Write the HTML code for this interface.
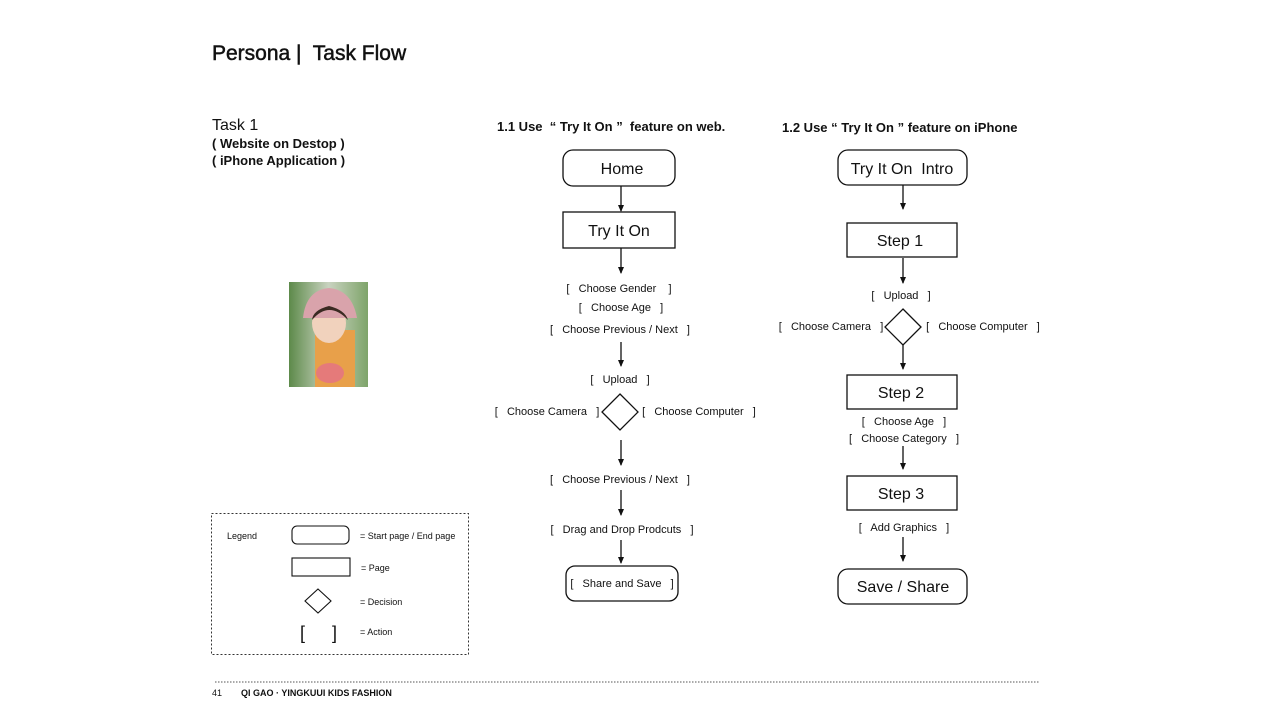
<!DOCTYPE html>
<html><head><meta charset="utf-8"><style>
html,body{margin:0;padding:0;background:#fff}
svg{display:block}
text{font-family:"Liberation Sans",sans-serif;fill:#111;white-space:pre}
</style></head><body>
<svg width="1280" height="720" viewBox="0 0 1280 720" xmlns="http://www.w3.org/2000/svg" xml:space="preserve">
<defs>
<marker id="a" markerWidth="7" markerHeight="6" refX="6" refY="3" orient="auto" markerUnits="userSpaceOnUse">
<path d="M0,0 L7,3 L0,6 z" fill="#111"/></marker>
<linearGradient id="bg" x1="0" y1="0" x2="1" y2="0"><stop offset="0" stop-color="#5d8a4a"/><stop offset="0.5" stop-color="#c9d3c0"/><stop offset="1" stop-color="#7ea46a"/></linearGradient>
</defs>
<text x="212" y="60" font-size="21" stroke="#111" stroke-width="0.5">Persona |  Task Flow</text>
<text x="212" y="130" font-size="16">Task 1</text>
<text x="212" y="148" font-size="13" font-weight="bold">( Website on Destop )</text>
<text x="212" y="165" font-size="13" font-weight="bold">( iPhone Application )</text>

<rect x="289" y="282" width="79" height="105" fill="url(#bg)"/>
<rect x="315" y="330" width="40" height="57" fill="#e8a04a"/>
<ellipse cx="329" cy="323" rx="17" ry="20" fill="#f1d2bd"/>
<path d="M303,318 Q306,290 329,288 Q352,290 357,318 Z" fill="#d9a3ab"/>
<path d="M312,320 Q329,300 348,320 Q345,310 329,306 Q313,310 312,320Z" fill="#3a2a22"/>
<ellipse cx="330" cy="373" rx="14" ry="10" fill="#e57a7a"/>

<text x="497" y="131" font-size="13" font-weight="bold">1.1 Use  “ Try It On ”  feature on web.</text>
<text x="782" y="132" font-size="13" font-weight="bold">1.2 Use “ Try It On ” feature on iPhone</text>

<g fill="none" stroke="#111" stroke-width="1.3">
<rect x="563" y="150" width="112" height="36" rx="10"/>
<rect x="563" y="212" width="112" height="36"/>
<path d="M620,394 L638,412 L620,430 L602,412 Z"/>
<rect x="566" y="566" width="112" height="35" rx="9"/>
<rect x="838" y="150" width="129" height="35" rx="10"/>
<rect x="847" y="223" width="110" height="34"/>
<path d="M903,309 L921,327 L903,345 L885,327 Z"/>
<rect x="847" y="375" width="110" height="34"/>
<rect x="847" y="476" width="110" height="34"/>
<rect x="838" y="569" width="129" height="35" rx="10"/>
</g>
<g stroke="#111" stroke-width="1.3" marker-end="url(#a)">
<line x1="621" y1="186" x2="621" y2="211"/>
<line x1="621" y1="248" x2="621" y2="273"/>
<line x1="621" y1="342" x2="621" y2="366"/>
<line x1="621" y1="440" x2="621" y2="465"/>
<line x1="621" y1="490" x2="621" y2="515"/>
<line x1="621" y1="540" x2="621" y2="563"/>
<line x1="903" y1="185" x2="903" y2="209"/>
<line x1="903" y1="258" x2="903" y2="283"/>
<line x1="903" y1="345" x2="903" y2="369"/>
<line x1="903" y1="446" x2="903" y2="469"/>
<line x1="903" y1="537" x2="903" y2="561"/>
</g>
<g font-size="16" text-anchor="middle">
<text x="622" y="174">Home</text>
<text x="619" y="236">Try It On</text>
<text x="902" y="174">Try It On  Intro</text>
<text x="900" y="246">Step 1</text>
<text x="901" y="398">Step 2</text>
<text x="901" y="499">Step 3</text>
<text x="903" y="592">Save / Share</text>
</g>
<g font-size="11" text-anchor="middle">
<text x="619" y="292">[   Choose Gender    ]</text>
<text x="621" y="311">[   Choose Age   ]</text>
<text x="620" y="333">[   Choose Previous / Next   ]</text>
<text x="620" y="383">[   Upload   ]</text>
<text x="547" y="415">[   Choose Camera   ]</text>
<text x="699" y="415">[   Choose Computer   ]</text>
<text x="620" y="483">[   Choose Previous / Next   ]</text>
<text x="622" y="533">[   Drag and Drop Prodcuts   ]</text>
<text x="622" y="587">[   Share and Save   ]</text>
<text x="901" y="299">[   Upload   ]</text>
<text x="831" y="330">[   Choose Camera   ]</text>
<text x="983" y="330">[   Choose Computer   ]</text>
<text x="904" y="425">[   Choose Age   ]</text>
<text x="904" y="442">[   Choose Category   ]</text>
<text x="904" y="531">[   Add Graphics   ]</text>
</g>

<rect x="211.5" y="513.5" width="257" height="141" fill="none" stroke="#333" stroke-width="1" stroke-dasharray="2,2"/>
<g fill="none" stroke="#111" stroke-width="1.1">
<rect x="292" y="526" width="57" height="18" rx="5"/>
<rect x="292" y="558" width="58" height="18"/>
<path d="M318,589 L331,601 L318,613 L305,601 Z"/>
</g>
<g font-size="9">
<text x="227" y="539">Legend</text>
<text x="360" y="539">= Start page / End page</text>
<text x="361" y="571">= Page</text>
<text x="360" y="605">= Decision</text>
<text x="360" y="635">= Action</text>
</g>
<text x="300" y="639" font-size="18">[</text>
<text x="332" y="639" font-size="18">]</text>

<line x1="215" y1="682" x2="1040" y2="682" stroke="#555" stroke-width="1" stroke-dasharray="1.5,1.5"/>
<text x="212" y="696" font-size="9">41</text>
<text x="241" y="696" font-size="9" font-weight="bold">QI GAO · YINGKUUI KIDS FASHION</text>
</svg>
</body></html>
